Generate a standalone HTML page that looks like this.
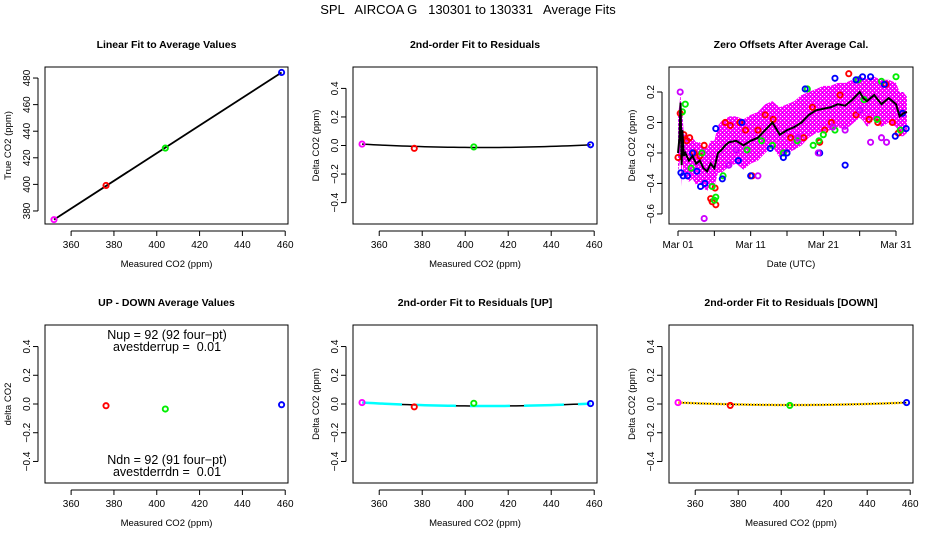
<!DOCTYPE html>
<html><head><meta charset="utf-8">
<style>
html,body{margin:0;padding:0;background:#fff;}
svg{display:block;font-family:"Liberation Sans",Arial,sans-serif;}
</style></head>
<body>
<svg id="chart" width="936" height="540" viewBox="0 0 936 540">
<defs>
<pattern id="hatch" width="4" height="4" patternUnits="userSpaceOnUse">
<rect width="4" height="4" fill="#ff00ff"/>
<rect x="0" y="0" width="1" height="1" fill="#ffffff"/>
<rect x="2" y="2" width="1" height="1" fill="#ffffff"/>
<rect x="2" y="0" width="1" height="1" fill="#a020f0"/>
</pattern>
</defs>
<text x="468" y="14" text-anchor="middle" font-size="13" style="white-space:pre" xml:space="preserve">SPL   AIRCOA G   130301 to 130331   Average Fits</text>
</svg>
<script>
// ---------- data ----------
const calX = [352, 376.3, 404, 458.3];
const calTrue = [373.5, 399.2, 427.3, 484.2];
const calColors = ['#ff00ff', 'red', '#00ee00', 'blue'];
const resid = [0.01, -0.02, -0.01, 0.005];
const udX = [376.3, 404, 458.3];
const udVals = [-0.012, -0.035, -0.005];
const udColors = ['red', '#00ee00', 'blue'];
const upResid = [0.01, -0.02, 0.005, 0.003];
const dnResid = [0.01, -0.01, -0.01, 0.01];
const xTicks = [360, 380, 400, 420, 440, 460];
const y1Ticks = [380, 400, 420, 440, 460, 480];
const yResTicks = [-0.4, -0.2, 0.0, 0.2, 0.4];
const yZeroTicks = [-0.6, -0.4, -0.2, 0.0, 0.2];
const dateTicks = [0, 10, 20, 30];
const dateTickLabels = ['Mar 01', 'Mar 11', 'Mar 21', 'Mar 31'];
const dateMinorTicks = [5, 15, 25];
const lineDays = [0, 0.2, 0.35, 0.5, 0.6, 0.8, 1, 1.5, 2, 2.5, 3, 3.5, 4, 4.5, 5, 5.5, 6, 6.5, 7, 8, 9, 10, 11, 12, 13, 14, 15, 16, 17, 18, 19, 20, 21, 22, 23, 24, 25, 25.5, 26, 27, 28, 29, 30, 30.5, 31, 31.5];
const lineVals = [-0.2, -0.1, 0.13, -0.28, -0.05, -0.22, -0.2, -0.25, -0.22, -0.27, -0.25, -0.3, -0.32, -0.27, -0.3, -0.2, -0.18, -0.15, -0.13, -0.12, -0.15, -0.12, -0.1, -0.05, 0.0, -0.08, -0.05, -0.03, 0.0, 0.05, 0.08, 0.09, 0.1, 0.12, 0.11, 0.15, 0.2, 0.16, 0.14, 0.18, 0.12, 0.16, 0.12, 0.04, 0.06, 0.07];
const bandUpper = [0.05, 0.12, 0.2, 0.05, 0.07, -0.08, -0.08, -0.1, -0.1, -0.13, -0.13, -0.16, -0.17, -0.12, -0.12, -0.02, 0.01, 0.02, 0.04, 0.04, 0.02, 0.05, 0.07, 0.12, 0.14, 0.1, 0.12, 0.14, 0.18, 0.2, 0.22, 0.24, 0.24, 0.26, 0.26, 0.28, 0.31, 0.29, 0.29, 0.3, 0.28, 0.28, 0.26, 0.2, 0.2, 0.17];
const bandLower = [-0.32, -0.28, -0.22, -0.42, -0.24, -0.36, -0.35, -0.39, -0.37, -0.41, -0.39, -0.43, -0.45, -0.41, -0.42, -0.33, -0.33, -0.31, -0.29, -0.27, -0.31, -0.27, -0.25, -0.2, -0.16, -0.23, -0.2, -0.18, -0.15, -0.1, -0.07, -0.06, -0.05, -0.03, -0.05, -0.01, 0.03, 0.01, -0.03, 0.02, -0.03, 0.0, -0.03, -0.09, -0.09, -0.07];
const redDays = [0, 0.3, 0.8, 1.2, 1.6, 2.2, 3, 3.6, 4.5, 4.7, 5.1, 5.2, 6.5, 7.2, 8.5, 9.3, 10.2, 11, 12, 13.1, 15.5, 17.3, 18.5, 19.5, 20.2, 21.1, 22.3, 23.5, 24.5, 26.3, 27.5, 28.6, 29.5, 30.3];
const redVals = [-0.23, 0.06, -0.08, -0.12, -0.1, -0.2, -0.22, -0.15, -0.5, -0.52, -0.43, -0.54, 0.0, -0.02, 0.0, -0.05, -0.35, -0.05, 0.05, 0.02, -0.1, -0.1, 0.1, -0.13, -0.05, 0.0, 0.18, 0.32, 0.05, 0.02, 0.0, 0.25, 0.0, -0.07];
const greenDays = [0.6, 1.0, 1.8, 3.3, 4.7, 5.0, 5.2, 6.2, 9.5, 11.5, 13.0, 14.5, 16.4, 17.8, 18.6, 19.4, 20.0, 21.6, 24.8, 25.6, 27.4, 28.0, 30.0, 30.6];
const greenVals = [0.07, 0.12, -0.3, -0.2, -0.42, -0.51, -0.49, -0.35, -0.18, -0.12, -0.15, -0.2, -0.12, 0.22, -0.15, -0.12, -0.08, -0.05, 0.28, 0.15, 0.02, 0.27, 0.3, -0.05];
const blueDays = [0.4, 0.7, 1.3, 2.0, 2.6, 3.1, 3.7, 5.2, 6.1, 8.3, 8.8, 10.0, 12.7, 14.5, 15.0, 17.5, 19.5, 21.6, 23.0, 24.5, 25.4, 26.5, 28.4, 29.9, 30.9, 31.4];
const blueVals = [-0.33, -0.35, -0.35, -0.2, -0.32, -0.42, -0.4, -0.04, -0.37, -0.25, 0.0, -0.35, -0.17, -0.23, -0.2, 0.22, -0.2, 0.29, -0.28, 0.28, 0.3, 0.3, 0.25, -0.09, 0.06, -0.04];
const purpleDays = [0.3, 3.6, 7.0, 8.0, 11.0, 16.5, 19.3, 21.3, 23.0, 25.0, 26.5, 28.0, 28.7];
const purpleVals = [0.2, -0.63, -0.28, -0.18, -0.35, -0.1, -0.2, -0.03, -0.05, 0.08, -0.13, -0.1, -0.13];

// ---------- helpers ----------
const NS = 'http://www.w3.org/2000/svg';
const svg = document.getElementById('chart');
function mk(tag, attrs, parent) {
  const e = document.createElementNS(NS, tag);
  for (const k in attrs) e.setAttribute(k, attrs[k]);
  (parent || svg).appendChild(e);
  return e;
}
function scale(d0, d1, r0, r1) { return v => r0 + (v - d0) / (d1 - d0) * (r1 - r0); }

function panel(name, box, xs, ys, xt, xtl, yt, title, xlab, ylab) {
  const g = mk('g', {});
  
  
  const frame = mk('rect', {x: box.l, y: box.t, width: box.r - box.l, height: box.b - box.t, fill: 'none', stroke: '#000', 'stroke-width': 1}, g);
  
  
  const tt = mk('text', {x: (box.l + box.r) / 2, y: box.t - 19, 'text-anchor': 'middle', 'font-size': 10.5, 'font-weight': 'bold'}, g);
  tt.textContent = title;
  
  
  const xa = mk('g', {}, g);
  
  
  const xpos = xt.map(xs);
  mk('line', {x1: xpos[0], x2: xpos[xpos.length - 1], y1: box.b + 7, y2: box.b + 7, stroke: '#000'}, xa);
  xt.forEach((v, i) => {
    const x = xs(v);
    mk('line', {x1: x, x2: x, y1: box.b + 7, y2: box.b + 12, stroke: '#000'}, xa);
    const t = mk('text', {x: x, y: box.b + 24, 'text-anchor': 'middle', 'font-size': 10}, xa);
    t.textContent = xtl ? xtl[i] : String(v);
    
    
  });
  const xl = mk('text', {x: (box.l + box.r) / 2, y: box.b + 43, 'text-anchor': 'middle', 'font-size': 9.5}, g);
  xl.textContent = xlab;
  
  
  const ya = mk('g', {}, g);
  
  
  mk('line', {x1: box.l - 7, x2: box.l - 7, y1: ys(yt[0]), y2: ys(yt[yt.length - 1]), stroke: '#000'}, ya);
  yt.forEach(v => {
    const y = ys(v);
    mk('line', {x1: box.l - 12, x2: box.l - 7, y1: y, y2: y, stroke: '#000'}, ya);
    const t = mk('text', {x: box.l - 15, y: y, 'text-anchor': 'middle', 'font-size': 10, transform: `rotate(-90 ${box.l - 15} ${y})`}, ya);
    t.textContent = (Math.abs(v) < 1 ? v.toFixed(1) : String(v)).replace('-', '\u2212');
    
    
  });
  const cy = (box.t + box.b) / 2;
  const yl = mk('text', {x: box.l - 34, y: cy, 'text-anchor': 'middle', 'font-size': 9.5, transform: `rotate(-90 ${box.l - 34} ${cy})`}, g);
  yl.textContent = ylab;
  
  
  return g;
}
function pt(g, x, y, color, name) {
  const c = mk('circle', {cx: x, cy: y, r: 2.6, fill: 'none', stroke: color, 'stroke-width': 1.9}, g);
  
  
}
function poly(g, xsArr, ysArr, attrs, name) {
  const p = mk('polyline', Object.assign({points: xsArr.map((x, i) => x + ',' + ysArr[i]).join(' '), fill: 'none'}, attrs), g);
  
  
  return p;
}

const colL = [45, 353, 669], colR = [288, 597, 913];
const rowT = [67, 325], rowB = [224, 483];
const XMIN = 347.8, XMAX = 461.3;

// ---------- panel 1 ----------
{
  const box = {l: colL[0], r: colR[0], t: rowT[0], b: rowB[0]};
  const xs = scale(XMIN, XMAX, box.l, box.r), ys = scale(370.2, 488.3, box.b, box.t);
  const g = panel('linear-fit-panel', box, xs, ys, xTicks, null, y1Ticks, 'Linear Fit to Average Values', 'Measured CO2 (ppm)', 'True CO2 (ppm)');
  const fx = [calX[0], calX[calX.length - 1]];
  const slope = (calTrue[3] - calTrue[0]) / (calX[3] - calX[0]);
  const fy = fx.map(x => calTrue[0] + slope * (x - calX[0]));
  poly(g, fx.map(xs), fy.map(ys), {stroke: '#000', 'stroke-width': 1.8}, 'fit-line');
  calX.forEach((x, i) => pt(g, xs(x), ys(calTrue[i]), calColors[i], 'calibration-point'));
}
// ---------- residual panels ----------
function residPanel(name, ci, ri, title, vals, fitColor, dotted) {
  const box = {l: colL[ci], r: colR[ci], t: rowT[ri], b: rowB[ri]};
  const xs = scale(XMIN, XMAX, box.l, box.r), ys = scale(-0.55, 0.55, box.b, box.t);
  const g = panel(name, box, xs, ys, xTicks, null, yResTicks, title, 'Measured CO2 (ppm)', 'Delta CO2 (ppm)');
  const a = vals[0], c = vals[3], m = Math.min(...vals) * 0.7;
  const cx = [], cy = [];
  for (let k = 0; k <= 40; k++) {
    const t = k / 40;
    const x = calX[0] + t * (calX[3] - calX[0]);
    cx.push(xs(x));
    cy.push(ys((1 - t) * (1 - t) * a + 2 * t * (1 - t) * (2 * m - (a + c) / 2) + t * t * c));
  }
  poly(g, cx, cy, {stroke: '#000', 'stroke-width': 1.5}, 'fit-curve');
  if (fitColor) poly(g, cx, cy, {stroke: fitColor, 'stroke-width': 2.5, 'stroke-dasharray': dotted ? '2,1' : '40,14'}, 'fit-curve-overlay');
  calX.forEach((x, i) => pt(g, xs(x), ys(vals[i]), calColors[i], 'residual-point'));
  return g;
}
residPanel('residual-fit-panel', 1, 0, '2nd-order Fit to Residuals', resid, null);
residPanel('residual-fit-up-panel', 1, 1, '2nd-order Fit to Residuals [UP]', upResid, '#00ffff', false);
residPanel('residual-fit-down-panel', 2, 1, '2nd-order Fit to Residuals [DOWN]', dnResid, '#ffcc00', true);
// ---------- panel 3 ----------
{
  const box = {l: colL[2], r: colR[2], t: rowT[0], b: rowB[0]};
  const xs = scale(-1.24, 32.34, box.l, box.r), ys = scale(-0.666, 0.364, box.b, box.t);
  const g = panel('zero-offsets-panel', box, xs, ys, dateTicks, dateTickLabels, yZeroTicks, 'Zero Offsets After Average Cal.', 'Date (UTC)', 'Delta CO2 (ppm)');
  dateMinorTicks.forEach(d => mk('line', {x1: xs(d), x2: xs(d), y1: box.b + 7, y2: box.b + 12, stroke: '#000'}, g));
  const up = lineDays.map((d, i) => xs(d) + ',' + ys(bandUpper[i]));
  const lo = lineDays.map((d, i) => xs(d) + ',' + ys(bandLower[i])).reverse();
  const band = mk('polygon', {points: up.concat(lo).join(' '), fill: 'url(#hatch)'}, g);
  
  
  redDays.forEach((d, i) => pt(g, xs(d), ys(redVals[i]), 'red', 'offset-point-red'));
  greenDays.forEach((d, i) => pt(g, xs(d), ys(greenVals[i]), '#00ee00', 'offset-point-green'));
  blueDays.forEach((d, i) => pt(g, xs(d), ys(blueVals[i]), 'blue', 'offset-point-blue'));
  purpleDays.forEach((d, i) => pt(g, xs(d), ys(purpleVals[i]), '#cc00ff', 'offset-point-purple'));
  poly(g, lineDays.map(xs), lineVals.map(ys), {stroke: '#000', 'stroke-width': 2}, 'average-offset-line');
}
// ---------- panel 4 ----------
{
  const box = {l: colL[0], r: colR[0], t: rowT[1], b: rowB[1]};
  const xs = scale(XMIN, XMAX, box.l, box.r), ys = scale(-0.55, 0.55, box.b, box.t);
  const g = panel('up-down-panel', box, xs, ys, xTicks, null, yResTicks, 'UP - DOWN Average Values', 'Measured CO2 (ppm)', 'delta CO2');
  udX.forEach((x, i) => pt(g, xs(x), ys(udVals[i]), udColors[i], 'up-down-point'));
  const lines = [['Nup = 92 (92 four\u2212pt)', 339], ['avestderrup =  0.01', 351], ['Ndn = 92 (91 four\u2212pt)', 464], ['avestderrdn =  0.01', 476]];
  lines.forEach(([s, y]) => {
    const t = mk('text', {x: 167, y: y, 'text-anchor': 'middle', 'font-size': 12.5, style: 'white-space:pre'}, g);
    t.textContent = s;
    
    
  });
}
</script>
</body></html>
